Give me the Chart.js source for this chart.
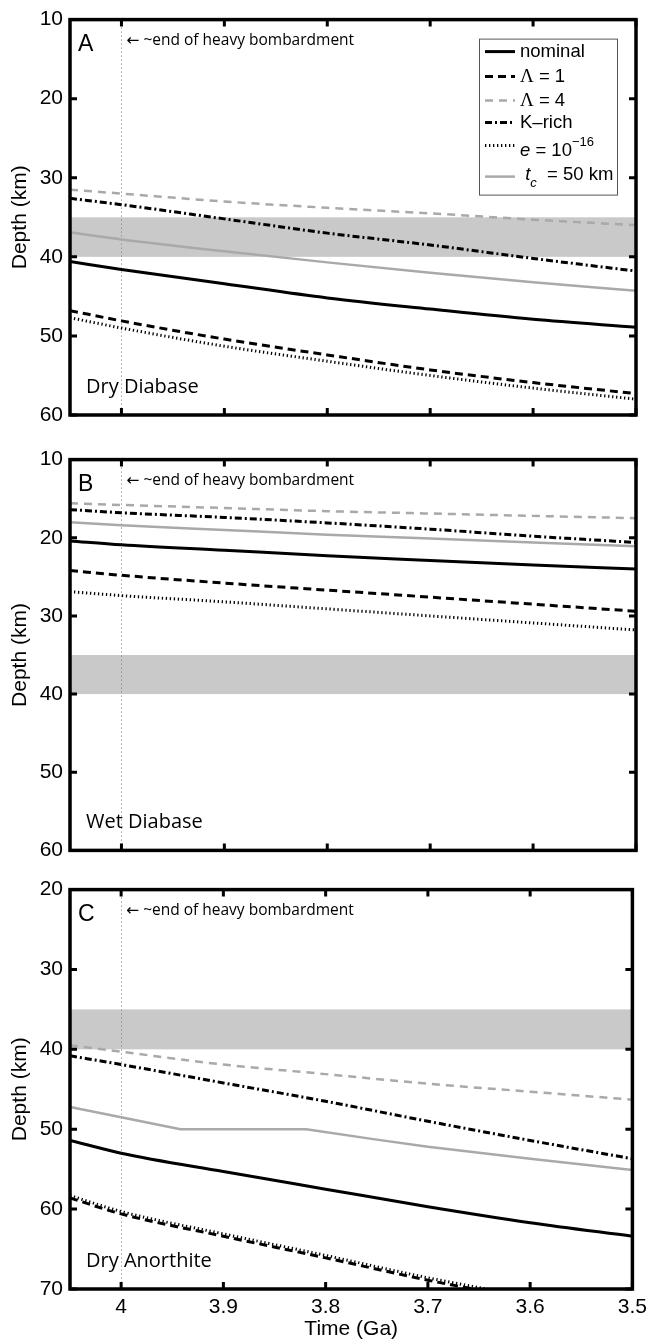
<!DOCTYPE html>
<html>
<head>
<meta charset="utf-8">
<script src="https://cdn.jsdelivr.net/npm/chart.js@4.4.0/dist/chart.umd.min.js"></script>
<style>
  html, body { margin: 0; padding: 0; background: #fff; }
  #wrap { position: relative; width: 653px; height: 1342px; }
  canvas { position: absolute; left: 0; }
</style>
</head>
<body>
<div id="wrap">
  <canvas id="panelA" width="653" height="440" style="top:0"></canvas>
  <canvas id="panelB" width="653" height="430" style="top:440px"></canvas>
  <canvas id="panelC" width="653" height="472" style="top:870px"></canvas>
</div>
<script>
// time axis (Ga), runs backwards
const timeGa = [4.05, 4.0, 3.9, 3.8, 3.7, 3.6, 3.5]
const timeTicks = [4, 3.9, 3.8, 3.7, 3.6, 3.5]
const bombardmentEnd = 4
const crustBand = [35, 40]

const seriesNames = ['nominal', 'Λ = 1', 'Λ = 4', 'K–rich', 'e = 10−16', 'tc = 50 km']

// A: dry diabase
const dryDiabaseNominal = [40.6, 41.6, 43.4, 45.2, 46.6, 47.9, 48.9]
const dryDiabaseLambda1 = [46.8, 48.1, 50.4, 52.4, 54.3, 55.9, 57.3]
const dryDiabaseLambda4 = [31.5, 32.0, 33.0, 33.8, 34.5, 35.3, 36.0]
const dryDiabaseKRich = [32.6, 33.4, 35.2, 37.0, 38.5, 40.2, 41.8]
const dryDiabaseEcc = [47.7, 49.0, 51.3, 53.2, 55.0, 56.6, 58.0]
const dryDiabaseTc50 = [36.9, 37.8, 39.3, 40.7, 42.0, 43.2, 44.3]

// B: wet diabase
const wetDiabaseNominal = [20.4, 20.9, 21.6, 22.3, 22.9, 23.5, 24.0]
const wetDiabaseLambda1 = [24.2, 24.8, 25.8, 26.7, 27.6, 28.5, 29.4]
const wetDiabaseLambda4 = [15.6, 15.8, 16.2, 16.6, 16.9, 17.2, 17.5]
const wetDiabaseKRich = [16.4, 16.8, 17.4, 18.1, 18.9, 19.8, 20.6]
const wetDiabaseEcc = [26.9, 27.4, 28.2, 29.1, 30.0, 30.9, 31.8]
const wetDiabaseTc50 = [18.0, 18.4, 19.0, 19.6, 20.1, 20.6, 21.1]

// C: dry anorthite
const dryAnorthiteNominal = [51.4, 53.0, 55.3, 57.5, 59.7, 61.7, 63.4]
const dryAnorthiteLambda1 = [58.6, 60.6, 63.4, 66.1, 68.9, 71.3, 73.6]
const dryAnorthiteLambda4 = [39.5, 40.3, 41.9, 43.1, 44.3, 45.3, 46.3]
const dryAnorthiteKRich = [40.8, 41.9, 44.2, 46.5, 49.0, 51.4, 53.7]
const dryAnorthiteEcc = [58.3, 60.3, 63.1, 65.8, 68.6, 71.0, 73.3]
const timeTcAnorthite = [4.05, 4.0, 3.942, 3.819, 3.75, 3.7, 3.6, 3.5]
const dryAnorthiteTc50 = [47.2, 48.5, 50.0, 50.0, 51.3, 52.2, 53.7, 55.1]

const upperTicks = [10, 20, 30, 40, 50, 60]
const lowerTicks = [20, 30, 40, 50, 60, 70]

const lineStyles = [
  {color: '#000000', dash: [], width: 3},
  {color: '#000000', dash: [8, 5], width: 3},
  {color: '#a9a9a9', dash: [8, 6], width: 2.5},
  {color: '#000000', dash: [7, 3, 2, 3], width: 3},
  {color: '#000000', dash: [1.3, 2.7], width: 3},
  {color: '#a9a9a9', dash: [], width: 2.5}
]

const panels = [
  {id: 'panelA', letter: 'A', rock: 'Dry Diabase', range: [10, 60], ticks: upperTicks,
   pad: [16, 25], legend: true, timeAxis: false,
   series: [[timeGa, dryDiabaseNominal], [timeGa, dryDiabaseLambda1], [timeGa, dryDiabaseLambda4],
            [timeGa, dryDiabaseKRich], [timeGa, dryDiabaseEcc], [timeGa, dryDiabaseTc50]]},
  {id: 'panelB', letter: 'B', rock: 'Wet Diabase', range: [10, 60], ticks: upperTicks,
   pad: [15, 15], legend: false, timeAxis: false,
   series: [[timeGa, wetDiabaseNominal], [timeGa, wetDiabaseLambda1], [timeGa, wetDiabaseLambda4],
            [timeGa, wetDiabaseKRich], [timeGa, wetDiabaseEcc], [timeGa, wetDiabaseTc50]]},
  {id: 'panelC', letter: 'C', rock: 'Dry Anorthite', range: [20, 70], ticks: lowerTicks,
   pad: [19, 0], legend: false, timeAxis: true,
   series: [[timeGa, dryAnorthiteNominal], [timeGa, dryAnorthiteLambda1], [timeGa, dryAnorthiteLambda4],
            [timeGa, dryAnorthiteKRich], [timeGa, dryAnorthiteEcc], [timeTcAnorthite, dryAnorthiteTc50]]}
]

const SANS = '"Liberation Sans", Arial, sans-serif'
const HUMAN = '"Open Sans", "DejaVu Sans", sans-serif'

function drawRuns(ctx, x, y, runs) {
  runs.forEach(function(r) {
    ctx.font = r[1]
    ctx.fillText(r[0], x, y + (r[2] || 0))
    x += ctx.measureText(r[0]).width
  })
}

function drawLegend(ctx, chart) {
  const a = chart.chartArea
  const bx = a.left + 409.5, by = a.top + 19.5
  ctx.setLineDash([])
  ctx.fillStyle = '#fff'
  ctx.fillRect(bx, by, 138, 156)
  ctx.strokeStyle = '#555'
  ctx.lineWidth = 1
  ctx.strokeRect(bx, by, 138, 156)

  const lineY = [32, 57, 81, 103, 126, 157]
  const textY = [32, 57, 81, 103, 131, 155]
  chart.data.datasets.forEach(function(ds, i) {
    const ly = a.top + lineY[i]
    ctx.strokeStyle = ds.borderColor
    ctx.lineWidth = ds.borderWidth
    ctx.setLineDash(ds.borderDash)
    ctx.beginPath()
    ctx.moveTo(a.left + 415, ly)
    ctx.lineTo(a.left + 445, ly)
    ctx.stroke()
  })
  ctx.setLineDash([])

  const f = '18.5px ' + SANS
  const it = 'italic 18.5px ' + SANS
  const serif = '19px "Liberation Serif", serif'
  const rows = [
    [['nominal', f]],
    [['Λ', serif], [' = 1', f]],
    [['Λ', serif], [' = 4', f]],
    [['K–rich', f]],
    [['e', it], [' = 10', f], ['−16', '13px ' + SANS, -8]],
    [[' t', it], ['c', 'italic 13px ' + SANS, 9], ['  = 50 km', f]]
  ]
  ctx.fillStyle = '#000'
  ctx.textAlign = 'left'
  ctx.textBaseline = 'middle'
  rows.forEach(function(runs, i) {
    drawRuns(ctx, a.left + 450, a.top + textY[i], runs)
  })
}

const panelDecor = {
  id: 'panelDecor',
  beforeDatasetsDraw(chart, args, opts) {
    const ctx = chart.ctx, a = chart.chartArea
    const x = chart.scales.x, y = chart.scales.y
    ctx.save()
    const y0 = y.getPixelForValue(crustBand[0]), y1 = y.getPixelForValue(crustBand[1])
    ctx.fillStyle = '#c9c9c9'
    ctx.fillRect(a.left, y0, a.right - a.left, y1 - y0)

    const xb = Math.round(x.getPixelForValue(bombardmentEnd)) + 0.5
    ctx.strokeStyle = '#777'
    ctx.lineWidth = 1
    ctx.setLineDash([1, 3])
    ctx.beginPath()
    ctx.moveTo(xb, a.top)
    ctx.lineTo(xb, a.bottom)
    ctx.stroke()
    ctx.restore()
  },
  afterDatasetsDraw(chart, args, opts) {
    const ctx = chart.ctx, a = chart.chartArea
    const x = chart.scales.x, y = chart.scales.y
    ctx.save()
    ctx.setLineDash([])
    ctx.strokeStyle = '#000'

    // inward ticks on all four sides
    ctx.lineWidth = 3
    ctx.beginPath()
    x.ticks.forEach(function(t) {
      const px = x.getPixelForValue(t.value)
      ctx.moveTo(px, a.bottom); ctx.lineTo(px, a.bottom - 7)
      ctx.moveTo(px, a.top); ctx.lineTo(px, a.top + 7)
    })
    y.ticks.forEach(function(t) {
      const py = y.getPixelForValue(t.value)
      ctx.moveTo(a.left, py); ctx.lineTo(a.left + 7, py)
      ctx.moveTo(a.right, py); ctx.lineTo(a.right - 7, py)
    })
    ctx.stroke()

    ctx.lineWidth = 3.5
    ctx.strokeRect(a.left, a.top, a.right - a.left, a.bottom - a.top)

    const xb = x.getPixelForValue(bombardmentEnd)
    ctx.fillStyle = '#000'
    ctx.textAlign = 'left'
    ctx.textBaseline = 'middle'
    ctx.font = '15.5px ' + HUMAN
    ctx.fillText('← ~end of heavy bombardment', xb + 5, a.top + 21)

    ctx.font = '23px ' + SANS
    ctx.fillText(opts.letter, a.left + 8, a.top + 25)

    ctx.font = '20px ' + HUMAN
    ctx.fillText(opts.rock, a.left + 16, a.bottom - 28)

    if (opts.legend) drawLegend(ctx, chart)
    ctx.restore()
  }
}

panels.forEach(function(p) {
  const datasets = p.series.map(function(s, i) {
    const st = lineStyles[i]
    const ds = {
      label: seriesNames[i],
      data: s[0].map(function(t, j) { return {x: t, y: s[1][j]} }),
      borderColor: st.color,
      borderWidth: st.width,
      borderDash: st.dash,
      pointRadius: 0,
      fill: false
    }
    // the 50 km crust case has a sharp bend, keep it straight-segmented
    if (s[0] === timeTcAnorthite) { ds.cubicInterpolationMode = 'default'; ds.tension = 0 }
    return ds
  })

  new Chart(document.getElementById(p.id).getContext('2d'), {
    type: 'line',
    data: {datasets: datasets},
    options: {
      responsive: false,
      animation: false,
      layout: {padding: {top: p.pad[0], bottom: p.pad[1], left: 0, right: 17}},
      elements: {line: {cubicInterpolationMode: 'monotone'}},
      plugins: {
        legend: {display: false},
        tooltip: {enabled: false},
        panelDecor: {letter: p.letter, rock: p.rock, legend: p.legend}
      },
      scales: {
        x: {
          type: 'linear', reverse: true, min: 3.5, max: 4.05,
          afterBuildTicks: function(s) { s.ticks = timeTicks.map(function(v) { return {value: v} }) },
          afterFit: function(s) { s.height = p.timeAxis ? 53 : 0 },
          grid: {display: false, drawTicks: false},
          border: {display: false},
          ticks: {
            display: p.timeAxis, color: '#000', padding: 6, maxRotation: 0, autoSkip: false,
            font: {family: SANS, size: 21},
            callback: function(v) { return String(v) }
          },
          title: {display: p.timeAxis, text: 'Time (Ga)', color: '#000',
                  font: {family: SANS, size: 21}, padding: {top: 0, bottom: 0}}
        },
        y: {
          type: 'linear', reverse: true, min: p.range[0], max: p.range[1],
          afterBuildTicks: function(s) { s.ticks = p.ticks.map(function(v) { return {value: v} }) },
          afterFit: function(s) { s.width = 70 },
          grid: {display: false, drawTicks: false},
          border: {display: false},
          ticks: {color: '#000', padding: 7, font: {family: SANS, size: 21},
                  callback: function(v) { return String(v) }},
          title: {display: true, text: 'Depth (km)', color: '#000',
                  font: {family: SANS, size: 21}, padding: {top: 8, bottom: 0}}
        }
      }
    },
    plugins: [panelDecor]
  })
})
</script>
</body>
</html>
